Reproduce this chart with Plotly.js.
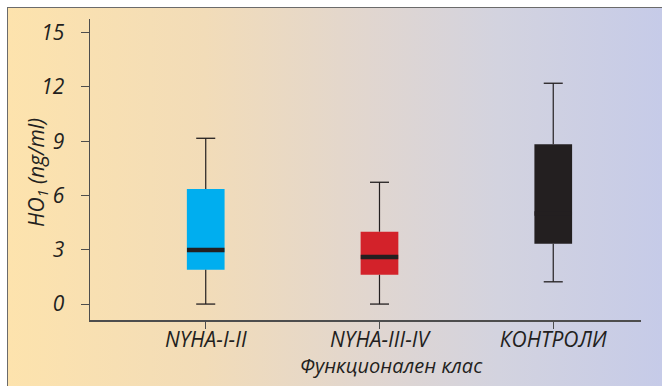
<!DOCTYPE html>
<html>
<head>
<meta charset="utf-8">
<script src="https://cdn.plot.ly/plotly-3.0.1.min.js"></script>
<style>
  html, body { margin: 0; padding: 0; background: #ffffff; }
  #wrap { position: relative; width: 662px; height: 386px; overflow: hidden; }
  #bg { position: absolute; left: 7px; top: 7px; right: 0; bottom: 0;
        border-left: 1.5px solid #6b6b6b; border-top: 1.5px solid #6b6b6b;
        background: linear-gradient(to right, #fde3ad 0%, #f2dcb8 30%, #e1d6cf 55%, #d3d3df 75%, #c6cbe8 100%); }
  #chart { position: absolute; left: 0; top: 0; width: 662px; height: 386px; }
</style>
</head>
<body>
<div id="wrap"><div id="bg"></div><div id="chart"></div></div>
<script>
// Data
var categories = ['NYHA-I-II', 'NYHA-III-IV', 'КОНТРОЛИ'];
var lowerWhisker = [0.0, 0.0, 1.23];
var q1 = [1.9, 1.62, 3.33];
var median = [2.99, 2.6, 5.0];
var q3 = [6.36, 4.0, 8.83];
var upperWhisker = [9.16, 6.73, 12.2];
var boxColors = ['#00aeef', '#d3222a', '#231f20'];
var yTicks = [0, 3, 6, 9, 12, 15];

var fontFam = '"Open Sans", "Noto Sans", sans-serif';
var ink = '#231f20';

// boxes as bars from q1 to q3
var boxTrace = {
  type: 'bar',
  x: categories,
  base: q1,
  y: q3.map(function (v, i) { return v - q1[i]; }),
  width: 0.217,
  marker: { color: boxColors, line: { width: 0 } },
  hoverinfo: 'skip',
  showlegend: false
};

// whisker stems
var wx = [], wy = [];
categories.forEach(function (c, i) {
  wx.push(c, c, null, c, c, null);
  wy.push(q3[i], upperWhisker[i], null, lowerWhisker[i], q1[i], null);
});
var stemTrace = {
  type: 'scatter', mode: 'lines', x: wx, y: wy,
  line: { color: ink, width: 1.2 }, hoverinfo: 'skip', showlegend: false
};

// whisker caps
var capX = [], capY = [];
categories.forEach(function (c, i) {
  capX.push(c, c); capY.push(upperWhisker[i], lowerWhisker[i]);
});
var capTrace = {
  type: 'scatter', mode: 'markers', x: capX, y: capY,
  marker: { symbol: 'line-ew', size: 13.6, color: ink, line: { color: ink, width: 1.3 } },
  hoverinfo: 'skip', showlegend: false
};

// medians
var medTrace = {
  type: 'scatter', mode: 'markers', x: categories, y: median,
  marker: { symbol: 'line-ew', size: 26.8, color: ink, line: { color: ink, width: 4.5 } },
  hoverinfo: 'skip', showlegend: false
};

var layout = {
  width: 662, height: 386,
  margin: { l: 90, r: 21, t: 19, b: 66 },
  paper_bgcolor: 'rgba(0,0,0,0)',
  plot_bgcolor: 'rgba(0,0,0,0)',
  font: { family: fontFam, color: ink },
  showlegend: false,
  xaxis: {
    type: 'category',
    range: [-0.666, 2.505],
    showline: true, linecolor: '#4d4d4d', linewidth: 1.5,
    ticks: 'outside', ticklen: 7, tickcolor: '#4d4d4d', tickwidth: 1,
    ticklabelstandoff: -7,
    showgrid: false, zeroline: false,
    tickfont: { family: fontFam, size: 21, color: ink, style: 'italic' },
    fixedrange: true
  },
  yaxis: {
    range: [-0.88, 15.75],
    tickvals: yTicks,
    ticktext: yTicks.map(String),
    showline: true, linecolor: '#4d4d4d', linewidth: 1.5,
    ticks: 'outside', ticklen: 8, tickcolor: '#4d4d4d', tickwidth: 1,
    ticklabelstandoff: 12,
    showgrid: false, zeroline: false,
    tickfont: { family: fontFam, size: 21, color: ink, style: 'italic' },
    fixedrange: true
  },
  annotations: [
    {
      text: 'HO<sub>1</sub> (ng/ml)', xref: 'paper', yref: 'paper',
      x: -0.0962, y: 0.492, xanchor: 'center', yanchor: 'middle',
      textangle: -90, showarrow: false,
      font: { family: fontFam, size: 21, color: ink, style: 'italic' }
    },
    {
      text: 'Функционален клас', xref: 'paper', yref: 'paper',
      x: 0.548, y: -0.152, xanchor: 'center', yanchor: 'middle',
      showarrow: false,
      font: { family: fontFam, size: 20, color: ink, style: 'italic' }
    }
  ]
};

Plotly.newPlot('chart', [boxTrace, stemTrace, capTrace, medTrace], layout, { displayModeBar: false, staticPlot: true });
</script>
</body>
</html>
